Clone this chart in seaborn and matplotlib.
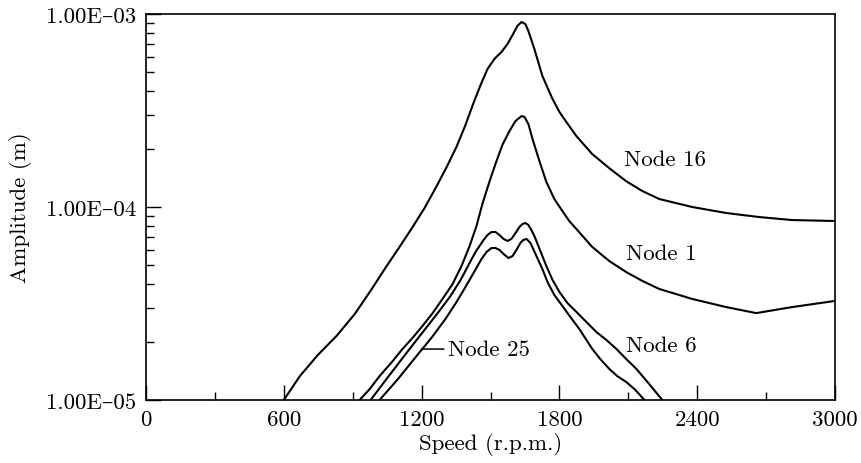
import matplotlib
matplotlib.use("Agg")
import matplotlib.pyplot as plt
import pandas as pd
import seaborn as sns
from matplotlib.ticker import FixedLocator, FixedFormatter, NullFormatter

# ---- response curves: speed (r.p.m.) and amplitude (m) ----
speed_node16 = [600, 670, 748, 830, 909, 983, 1048, 1104, 1161, 1213, 1265, 1309,
                1352, 1391, 1426, 1457, 1487, 1517, 1548, 1574, 1596, 1617, 1635,
                1652, 1665, 1691, 1726, 1770, 1800, 1830, 1874, 1943, 2017, 2091,
                2161, 2235, 2378, 2526, 2670, 2813, 3000]
amp_node16 = [1.00e-5, 1.33e-5, 1.71e-5, 2.15e-5, 2.79e-5, 3.76e-5, 4.95e-5, 6.21e-5,
              7.88e-5, 9.88e-5, 1.28e-4, 1.61e-4, 2.05e-4, 2.66e-4, 3.46e-4, 4.29e-4,
              5.19e-4, 5.85e-4, 6.36e-4, 6.99e-4, 7.78e-4, 8.67e-4, 9.09e-4, 8.87e-4,
              8.16e-4, 6.59e-4, 4.77e-4, 3.63e-4, 3.11e-4, 2.76e-4, 2.33e-4, 1.88e-4,
              1.59e-4, 1.36e-4, 1.21e-4, 1.10e-4, 1.00e-4, 9.31e-5, 8.87e-5, 8.56e-5,
              8.46e-5]

speed_node1 = [930, 974, 1017, 1070, 1117, 1161, 1204, 1248, 1291, 1335, 1374, 1409,
               1439, 1465, 1496, 1526, 1552, 1583, 1609, 1635, 1648, 1665, 1683, 1713,
               1743, 1778, 1813, 1843, 1874, 1943, 2017, 2091, 2161, 2235, 2378, 2526,
               2657, 2813, 3000]
amp_node1 = [1.00e-5, 1.14e-5, 1.33e-5, 1.57e-5, 1.84e-5, 2.10e-5, 2.42e-5, 2.82e-5,
             3.34e-5, 3.99e-5, 4.95e-5, 6.28e-5, 7.97e-5, 1.04e-4, 1.36e-4, 1.73e-4,
             2.10e-4, 2.48e-4, 2.79e-4, 2.96e-4, 2.93e-4, 2.69e-4, 2.25e-4, 1.73e-4,
             1.35e-4, 1.10e-4, 9.53e-5, 8.46e-5, 7.69e-5, 6.21e-5, 5.25e-5, 4.60e-5,
             4.14e-5, 3.76e-5, 3.34e-5, 3.03e-5, 2.82e-5, 3.03e-5, 3.26e-5]

speed_node6 = [978, 1061, 1148, 1213, 1274, 1326, 1370, 1404, 1435, 1470, 1487, 1504,
               1522, 1539, 1557, 1574, 1591, 1609, 1626, 1639, 1652, 1665, 1678, 1691,
               1717, 1743, 1770, 1800, 1835, 1874, 1917, 1961, 2004, 2048, 2091, 2135,
               2191, 2248]
amp_node6 = [1.00e-5, 1.35e-5, 1.84e-5, 2.31e-5, 2.86e-5, 3.46e-5, 4.19e-5, 5.00e-5,
             5.85e-5, 6.75e-5, 7.16e-5, 7.42e-5, 7.42e-5, 7.16e-5, 6.83e-5, 6.67e-5,
             6.83e-5, 7.33e-5, 7.88e-5, 8.16e-5, 8.26e-5, 8.07e-5, 7.60e-5, 7.08e-5,
             5.92e-5, 4.95e-5, 4.19e-5, 3.63e-5, 3.18e-5, 2.86e-5, 2.54e-5, 2.25e-5,
             2.05e-5, 1.84e-5, 1.63e-5, 1.45e-5, 1.21e-5, 1.00e-5]

speed_node25 = [1017, 1096, 1178, 1243, 1304, 1352, 1391, 1426, 1461, 1483, 1504, 1522,
                1539, 1557, 1578, 1596, 1613, 1630, 1643, 1657, 1674, 1700, 1726, 1748,
                1778, 1813, 1848, 1887, 1943, 1978, 2017, 2052, 2091, 2130, 2170]
amp_node25 = [1.00e-5, 1.28e-5, 1.69e-5, 2.10e-5, 2.63e-5, 3.22e-5, 3.85e-5, 4.55e-5,
              5.38e-5, 5.85e-5, 6.13e-5, 6.13e-5, 5.99e-5, 5.71e-5, 5.44e-5, 5.57e-5,
              5.99e-5, 6.51e-5, 6.75e-5, 6.83e-5, 6.51e-5, 5.57e-5, 4.77e-5, 4.09e-5,
              3.50e-5, 3.07e-5, 2.69e-5, 2.33e-5, 1.84e-5, 1.63e-5, 1.45e-5, 1.33e-5,
              1.24e-5, 1.13e-5, 1.00e-5]

node_names = ["Node 16", "Node 1", "Node 6", "Node 25"]

x_ticks = [0, 600, 1200, 1800, 2400, 3000]
x_tick_labels = ["0", "600", "1200", "1800", "2400", "3000"]
y_ticks = [1e-5, 1e-4, 1e-3]
y_tick_labels = ["1.00E\u201305", "1.00E\u201304", "1.00E\u201303"]

# ---- styling ----
sns.set_theme(style="white")
plt.rcParams["font.family"] = ["cmr10", "DejaVu Serif"]
plt.rcParams["mathtext.fontset"] = "cm"
plt.rcParams["axes.formatter.use_mathtext"] = True
plt.rcParams["axes.unicode_minus"] = False
FS = 16.5

frames = []
for name, s, a in zip(node_names,
                      [speed_node16, speed_node1, speed_node6, speed_node25],
                      [amp_node16, amp_node1, amp_node6, amp_node25]):
    frames.append(pd.DataFrame({"speed": s, "amplitude": a, "node": name}))
df = pd.concat(frames, ignore_index=True)

fig = plt.figure(figsize=(8.61, 4.64), dpi=100)
ax = fig.add_axes([146 / 861, 63 / 464, 689 / 861, 386 / 464])

sns.lineplot(data=df, x="speed", y="amplitude", hue="node",
             palette={n: "black" for n in node_names},
             estimator=None, sort=False, legend=False, linewidth=1.5, ax=ax)
for line in ax.get_lines():
    line.set_solid_joinstyle("round")
    line.set_solid_capstyle("round")

ax.set_yscale("log")
ax.set_xlim(0, 3000)
ax.set_ylim(1e-5, 1e-3)

ax.xaxis.set_major_locator(FixedLocator(x_ticks))
ax.xaxis.set_major_formatter(FixedFormatter(x_tick_labels))
ax.xaxis.set_minor_locator(FixedLocator([300, 900, 1500, 2100, 2700]))
ax.xaxis.set_minor_formatter(NullFormatter())
ax.yaxis.set_major_locator(FixedLocator(y_ticks))
ax.yaxis.set_major_formatter(FixedFormatter(y_tick_labels))
ax.yaxis.set_minor_locator(FixedLocator([k * 10.0 ** e for e in (-5, -4) for k in range(2, 10)]))
ax.yaxis.set_minor_formatter(NullFormatter())

ax.tick_params(axis="both", which="both", direction="in", colors="black",
               labelsize=FS, top=False, right=False, left=True, bottom=True)
ax.tick_params(axis="both", which="major", length=11, width=1.0, pad=7)
ax.tick_params(axis="both", which="minor", length=5.5, width=1.0)

for side in ["left", "right", "top", "bottom"]:
    ax.spines[side].set_visible(True)
    ax.spines[side].set_color("black")
    ax.spines[side].set_linewidth(1.2)

ax.set_xlabel("Speed (r.p.m.)", fontsize=FS, color="black", labelpad=2)
ax.set_ylabel("Amplitude (m)", fontsize=FS, color="black", labelpad=10)

# curve labels
ax.text(2083, 10 ** -3.751, "Node 16", fontsize=FS, va="center", ha="left", color="black")
ax.text(2091, 10 ** -4.238, "Node 1", fontsize=FS, va="center", ha="left", color="black")
ax.text(2091, 10 ** -4.715, "Node 6", fontsize=FS, va="center", ha="left", color="black")
ax.annotate("Node 25", xy=(1200, 10 ** -4.736), xytext=(1317, 10 ** -4.736),
            fontsize=FS, va="center", ha="left", color="black",
            arrowprops=dict(arrowstyle="-", color="black", lw=1.1,
                            shrinkA=1, shrinkB=0))

fig.savefig("out.png", dpi=100)
